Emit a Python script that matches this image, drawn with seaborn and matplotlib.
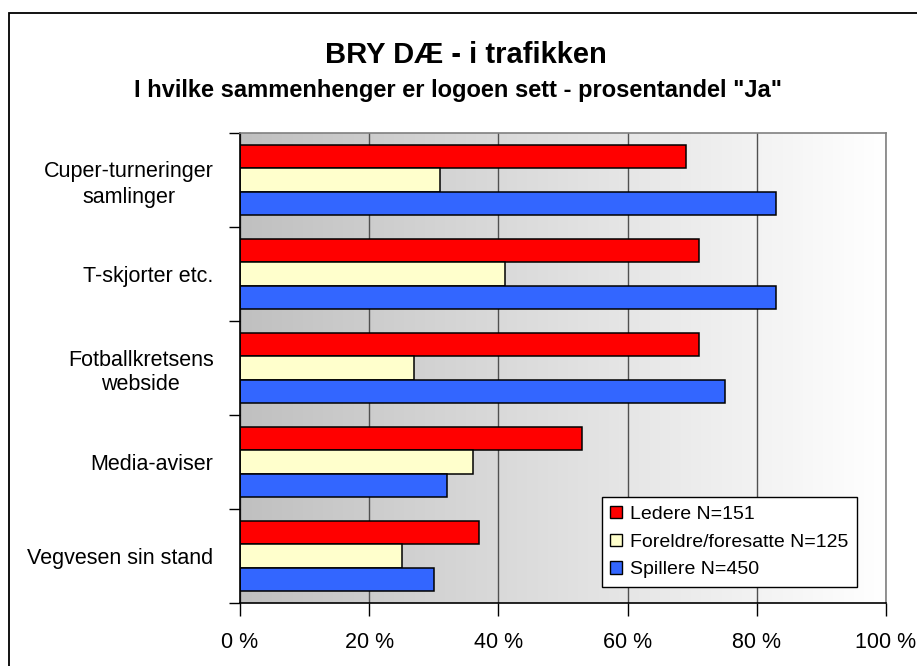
import numpy as np
import pandas as pd
import matplotlib
matplotlib.use("Agg")
import matplotlib.pyplot as plt
import seaborn as sns
from matplotlib.colors import LinearSegmentedColormap
from matplotlib.patches import Patch, Rectangle

# data
kategorier = ["Cuper-turneringer\nsamlinger", "T-skjorter etc.", "Fotballkretsens\nwebside",
              "Media-aviser", "Vegvesen sin stand"]
grupper = ["Ledere N=151", "Foreldre/foresatte N=125", "Spillere N=450"]
ledere = [69, 71, 71, 53, 37]
foreldre = [31, 41, 27, 36, 25]
spillere = [83, 83, 75, 32, 30]
farger = ["#FF0000", "#FFFFCC", "#3366FF"]
x_ticks = [0, 20, 40, 60, 80, 100]

df = pd.DataFrame({
    "kategori": kategorier * 3,
    "prosent": ledere + foreldre + spillere,
    "gruppe": [g for g in grupper for _ in kategorier],
})

sns.set_style("white")
plt.rcParams["font.family"] = ["Liberation Sans", "DejaVu Sans"]
plt.rcParams["text.color"] = "black"
plt.rcParams["xtick.color"] = "black"
plt.rcParams["ytick.color"] = "black"

fig = plt.figure(figsize=(9.17, 6.66), dpi=100)
ax = fig.add_axes([240 / 917, 1 - 603 / 666, (886 - 240) / 917, (603 - 133) / 666])

sns.barplot(data=df, y="kategori", x="prosent", hue="gruppe", orient="h",
            order=kategorier, hue_order=grupper, palette=farger, saturation=1,
            edgecolor="black", linewidth=1.1, width=0.74, legend=False, ax=ax)

# gray -> white gradient background
cmap = LinearSegmentedColormap.from_list("bg", ["#C0C0C0", "#FFFFFF"])
ax.imshow(np.linspace(0, 1, 256).reshape(1, -1), extent=[0, 100, 4.5, -0.5],
          aspect="auto", cmap=cmap, zorder=0)
ax.set_xlim(0, 100)
ax.set_ylim(4.5, -0.5)

# grid
ax.set_axisbelow(True)
ax.xaxis.grid(True, color="#505050", linewidth=1.0)
ax.yaxis.grid(False)

ax.set_xticks(x_ticks)
ax.set_xticklabels([f"{t} %" for t in x_ticks], fontsize=15.5, color="black")
ax.tick_params(axis="x", direction="out", length=9, width=1, pad=12, color="black",
               labelcolor="black", bottom=True)

ax.set_yticks(range(len(kategorier)))
ax.set_yticklabels(kategorier, fontsize=15.5, linespacing=1.25, color="black")
for lab in ax.get_yticklabels():
    lab.set_multialignment("center")
ax.tick_params(axis="y", which="major", length=0, pad=19, labelcolor="black")
ax.set_yticks(np.arange(-0.5, len(kategorier), 1.0), minor=True)
ax.tick_params(axis="y", which="minor", direction="out", length=8, width=1,
               color="black", left=True)

ax.set_xlabel("")
ax.set_ylabel("")

for side in ["left", "bottom"]:
    ax.spines[side].set_color("black")
    ax.spines[side].set_linewidth(1.2)
for side in ["top", "right"]:
    ax.spines[side].set_color("#808080")
    ax.spines[side].set_linewidth(1.2)
    ax.spines[side].set_visible(True)

handles = [Patch(facecolor=c, edgecolor="black", linewidth=1.0) for c in farger]
leg = ax.legend(handles, grupper, loc="lower right", bbox_to_anchor=(0.955, 0.034),
                borderaxespad=0, fontsize=14, frameon=True, fancybox=False,
                edgecolor="black", handlelength=0.6, handleheight=0.6,
                handletextpad=0.4, labelspacing=0.55, borderpad=0.45)
leg.get_frame().set_linewidth(1.0)
leg.get_frame().set_facecolor("white")
leg.get_frame().set_alpha(1)
for t in leg.get_texts():
    t.set_color("black")

fig.text(466 / 917, 1 - 63 / 666, "BRY DÆ - i trafikken", ha="center", va="baseline",
         fontsize=21, fontweight="bold", color="black")
fig.text(458 / 917, 1 - 97 / 666, 'I hvilke sammenhenger er logoen sett - prosentandel "Ja"',
         ha="center", va="baseline", fontsize=17, fontweight="bold", color="black")

# outer chart frame
fig.patches.append(Rectangle((9 / 917, -0.1), 1.0, 1.1 - 12.7 / 666, transform=fig.transFigure,
                             fill=False, edgecolor="black", linewidth=1.3))

fig.savefig("out.png", dpi=100)
